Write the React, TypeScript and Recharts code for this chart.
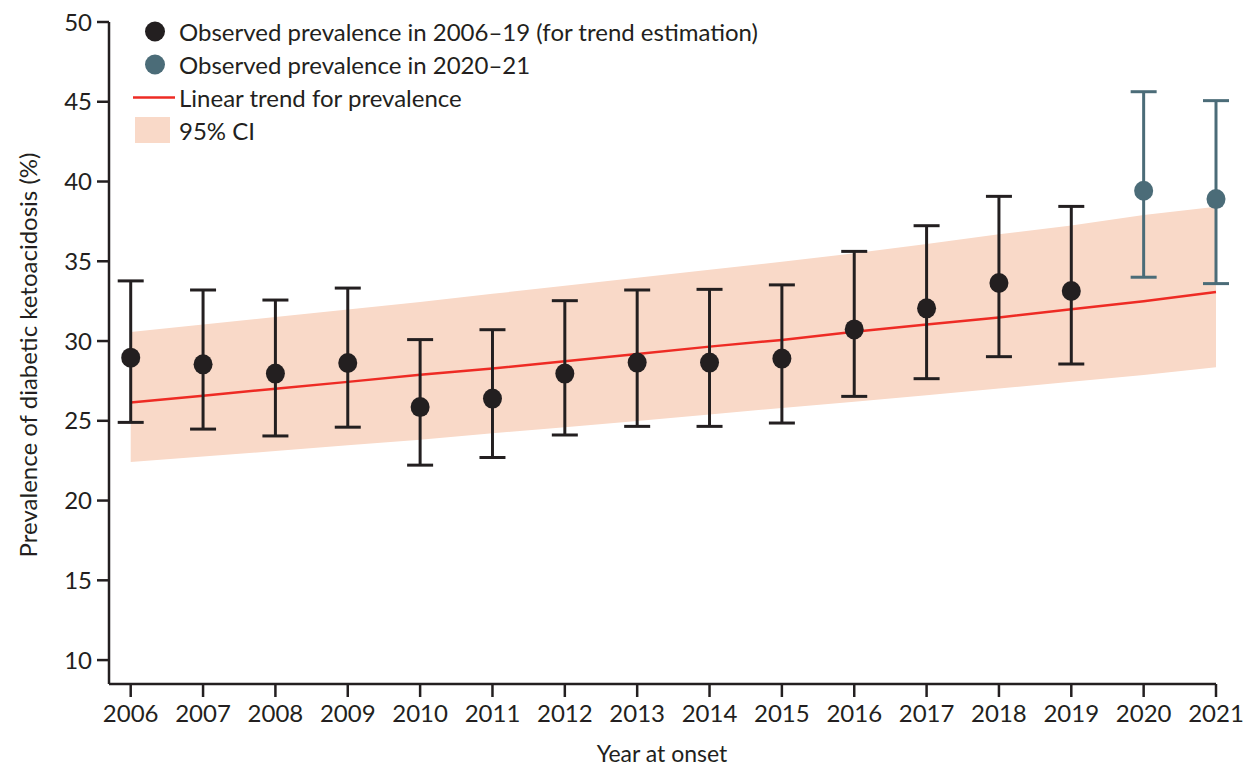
import { ComposedChart, Area, Line, Scatter, ErrorBar, XAxis, YAxis, Legend, Label } from 'recharts';

// values
const years = [2006, 2007, 2008, 2009, 2010, 2011, 2012, 2013, 2014, 2015, 2016, 2017, 2018, 2019, 2020, 2021];
const prevalence = [28.96, 28.54, 27.96, 28.62, 25.86, 26.39, 27.96, 28.65, 28.65, 28.9, 30.73, 32.05, 33.64, 33.14, 39.42, 38.9];
const prevalenceUpper = [33.77, 33.2, 32.57, 33.32, 30.09, 30.71, 32.53, 33.2, 33.24, 33.52, 35.62, 37.23, 39.07, 38.44, 45.63, 45.07];
const prevalenceLower = [24.9, 24.48, 24.05, 24.6, 22.22, 22.7, 24.11, 24.65, 24.65, 24.86, 26.53, 27.64, 29.02, 28.56, 34.0, 33.6];
const trend = [26.14, 26.57, 27.01, 27.44, 27.88, 28.28, 28.73, 29.19, 29.65, 30.07, 30.58, 31.03, 31.48, 31.99, 32.5, 33.07];
const bandUpper = [30.56, 31.03, 31.5, 31.97, 32.44, 32.96, 33.46, 33.96, 34.47, 34.97, 35.5, 36.08, 36.69, 37.25, 37.9, 38.42];
const bandLower = [22.41, 22.76, 23.1, 23.46, 23.81, 24.22, 24.59, 24.99, 25.4, 25.8, 26.2, 26.6, 27.02, 27.45, 27.87, 28.35];
const lastTrendYear = 2019;

const yTicks = [10, 15, 20, 25, 30, 35, 40, 45, 50];

const BLACK = '#231f20';
const TEAL = '#4b6c78';
const RED = '#ee2b24';
const PEACH = '#f9d9c8';
const FONT = 'Lato, sans-serif';

const rows = years.map((year, i) => ({
    year,
    trend: trend[i],
    band: [bandLower[i], bandUpper[i]],
    value: prevalence[i],
    err: [prevalence[i] - prevalenceLower[i], prevalenceUpper[i] - prevalence[i]],
}));
const trendPoints = rows.filter((r) => r.year <= lastTrendYear);
const recentPoints = rows.filter((r) => r.year > lastTrendYear);

const dot = (color: string) => (props: any) => (
    <ellipse cx={props.cx} cy={props.cy} rx={9.5} ry={10} fill={color} />
);

const legendItems = [
    { kind: 'dot', color: BLACK, text: 'Observed prevalence in 2006–19 (for trend estimation)' },
    { kind: 'dot', color: TEAL, text: 'Observed prevalence in 2020–21' },
    { kind: 'line', color: RED, text: 'Linear trend for prevalence' },
    { kind: 'box', color: PEACH, text: '95% CI' },
];

const renderLegend = () => (
    <div style={{ fontFamily: FONT, fontSize: 24, color: BLACK }}>
        {legendItems.map((item) => (
            <div key={item.text} style={{ display: 'flex', alignItems: 'center', height: 33 }}>
                <svg width={48} height={33}>
                    {item.kind === 'dot' && <circle cx={24} cy={16.5} r={10} fill={item.color} />}
                    {item.kind === 'line' && <line x1={2} x2={44} y1={16.5} y2={16.5} stroke={item.color} strokeWidth={2.5} />}
                    {item.kind === 'box' && <rect x={4} y={3} width={35} height={26} fill={item.color} />}
                </svg>
                <span style={{ whiteSpace: 'nowrap' }}>{item.text}</span>
            </div>
        ))}
    </div>
);

const App = () => {
    return (
        <div style={{ width: 1236, height: 761 }}>
            <ComposedChart
                width={1236}
                height={761}
                data={rows}
                margin={{ top: 14, right: 28, left: 0, bottom: 0 }}
            >
                <XAxis
                    dataKey="year"
                    type="number"
                    domain={[2005.7, 2021]}
                    ticks={years}
                    interval={0}
                    height={85}
                    stroke={BLACK}
                    strokeWidth={2.5}
                    tickSize={13}
                    tickMargin={8}
                    tick={{ fill: BLACK, fontSize: 24, fontFamily: FONT }}
                >
                    <Label
                        content={() => (
                            <text x={654} y={745} textAnchor="middle" dominantBaseline="central"
                                fill={BLACK} fontSize={23} fontFamily={FONT}>
                                Year at onset
                            </text>
                        )}
                    />
                </XAxis>
                <YAxis
                    type="number"
                    domain={[8.5, 50]}
                    ticks={yTicks}
                    interval={0}
                    width={101}
                    stroke={BLACK}
                    strokeWidth={2.5}
                    tickSize={12}
                    tickMargin={5}
                    tick={{ fill: BLACK, fontSize: 24, fontFamily: FONT }}
                >
                    <Label
                        content={() => (
                            <text x={19} y={347} textAnchor="middle" dominantBaseline="central"
                                transform="rotate(-90 19 347)"
                                fill={BLACK} fontSize={24} fontFamily={FONT}>
                                Prevalence of diabetic ketoacidosis (%)
                            </text>
                        )}
                    />
                </YAxis>
                <Legend
                    layout="horizontal"
                    verticalAlign="middle"
                    align="center"
                    content={renderLegend}
                    wrapperStyle={{ top: 7, left: 123, width: 'auto' }}
                />
                <Area
                    type="linear"
                    dataKey="band"
                    stroke="none"
                    fill={PEACH}
                    fillOpacity={1}
                    isAnimationActive={false}
                />
                <Line
                    type="linear"
                    dataKey="trend"
                    stroke={RED}
                    strokeWidth={2.5}
                    dot={false}
                    isAnimationActive={false}
                />
                <Scatter data={trendPoints} dataKey="value" shape={dot(BLACK)} isAnimationActive={false}>
                    <ErrorBar dataKey="err" direction="y" width={13} strokeWidth={3} stroke={BLACK} isAnimationActive={false} />
                </Scatter>
                <Scatter data={recentPoints} dataKey="value" shape={dot(TEAL)} isAnimationActive={false}>
                    <ErrorBar dataKey="err" direction="y" width={13} strokeWidth={3} stroke={TEAL} isAnimationActive={false} />
                </Scatter>
            </ComposedChart>
        </div>
    );
};

export default App;
